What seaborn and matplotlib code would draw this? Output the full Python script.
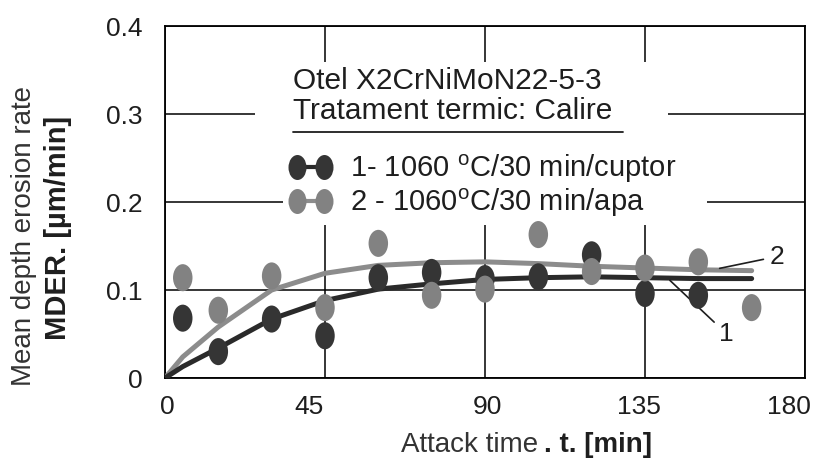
import matplotlib
matplotlib.use('Agg')
import matplotlib.pyplot as plt
import seaborn as sns
from matplotlib.path import Path
from matplotlib.transforms import Affine2D, ScaledTranslation
from matplotlib.markers import MarkerStyle
from matplotlib.lines import Line2D
from matplotlib.patches import Rectangle

# measured points
t_pts1 = [5, 15, 30, 45, 60, 75, 90, 105, 120, 135, 150]
mder1 = [0.068, 0.030, 0.067, 0.048, 0.114, 0.120, 0.113, 0.115, 0.140, 0.096, 0.094]
t_pts2 = [5, 15, 30, 45, 60, 75, 90, 105, 120, 135, 150, 165]
mder2 = [0.114, 0.077, 0.116, 0.080, 0.153, 0.094, 0.101, 0.163, 0.121, 0.125, 0.132, 0.080]

# fitted curves
t_fit = [0, 5, 15, 30, 45, 60, 75, 90, 105, 120, 135, 150, 165]
fit1 = [0, 0.013, 0.034, 0.067, 0.088, 0.101, 0.107, 0.112, 0.114, 0.115, 0.114, 0.113, 0.113]
fit2 = [0, 0.024, 0.058, 0.100, 0.119, 0.128, 0.131, 0.132, 0.130, 0.127, 0.125, 0.123, 0.122]

x_ticks = [0, 45, 90, 135, 180]
y_ticks = [0, 0.1, 0.2, 0.3, 0.4]
y_ticklabels = ['0', '0.1', '0.2', '0.3', '0.4']

labels = ['1- 1060 $^{\\mathrm{o}}$C/30 min/cuptor', '2 - 1060$^{\\mathrm{o}}$C/30 min/apa']
dark = '#353535'
grey = '#828282'
txt = '#1e1e1e'

sns.set_style('white')
plt.rcParams['font.family'] = ['Liberation Sans', 'DejaVu Sans']
plt.rcParams['mathtext.fontset'] = 'custom'
plt.rcParams['mathtext.rm'] = 'Liberation Sans'
plt.rcParams['mathtext.bf'] = 'Liberation Sans:bold'
plt.rcParams['mathtext.it'] = 'Liberation Sans:italic'

ell = MarkerStyle(Affine2D().scale(0.72, 1.0).transform_path(Path.unit_circle()))

fig = plt.figure(figsize=(8.22, 4.61), dpi=100)
ax = fig.add_axes([0.2007, 0.180, 0.7786, 0.7636])

sns.lineplot(x=t_fit, y=fit2, color='#8c8c8c', lw=3.6, ax=ax, zorder=3)
sns.lineplot(x=t_fit, y=fit1, color='#2a2a2a', lw=3.6, ax=ax, zorder=3)
sns.scatterplot(x=t_pts1, y=mder1, marker=ell, s=380, color=dark, edgecolor='none', ax=ax, zorder=4)
sns.scatterplot(x=t_pts2, y=mder2, marker=ell, s=380, color=grey, edgecolor='none', ax=ax, zorder=4)

ax.set_xlim(0, 180)
ax.set_ylim(0, 0.4)
ax.set_xticks(x_ticks)
ax.set_yticks(y_ticks)
ax.set_yticklabels(y_ticklabels)
ax.tick_params(axis='both', length=0, labelsize=19, colors=txt)
ax.tick_params(axis='x', pad=12)
ax.tick_params(axis='y', pad=16)
# the scanned x labels sit a little left of their grid lines
for lab, dx in zip(ax.get_xticklabels(), [2, -16, 2, -6, -16]):
    lab.set_transform(lab.get_transform() + ScaledTranslation(dx / 100, 0, fig.dpi_scale_trans))
ax.grid(True, color='black', lw=1.1)
ax.set_axisbelow(True)
for sp in ax.spines.values():
    sp.set_color('black')
    sp.set_linewidth(1.3)
ax.set_xlabel('')
ax.set_ylabel('')

# white background behind heading and legend
ax.add_patch(Rectangle((0.1406, 0.648), 0.6454, 0.25, transform=ax.transAxes,
                       fc='white', ec='none', zorder=2))
ax.add_patch(Rectangle((0.184, 0.435), 0.663, 0.213, transform=ax.transAxes,
                       fc='white', ec='none', zorder=2))

ax.text(36, 0.338, 'Otel X2CrNiMoN22-5-3', fontsize=21.5, ha='left', va='center',
        color=txt, zorder=3)
ax.text(36, 0.303, 'Tratament termic: Calire', fontsize=21.5, ha='left', va='center',
        color=txt, zorder=3)
ax.add_line(Line2D([0.2, 0.716], [0.699, 0.699], transform=ax.transAxes, color=txt, lw=1.3, zorder=3))

handles = [Line2D([], [], color='#2a2a2a', lw=3, marker=ell, markersize=18, markerfacecolor=dark, markeredgecolor='none'),
           Line2D([], [], color='#8c8c8c', lw=3, marker=ell, markersize=18, markerfacecolor=grey, markeredgecolor='none')]
ax.legend(handles, labels, loc='center left', bbox_to_anchor=(0.184, 0.545), numpoints=2,
          fontsize=21, frameon=False, borderaxespad=0, borderpad=0.2, handlelength=1.5,
          handletextpad=0.6, labelspacing=0.05, labelcolor=txt)

ax.annotate('2', xy=(156, 0.1246), xytext=(170, 0.138), fontsize=19, va='center', ha='left', color=txt,
            arrowprops=dict(arrowstyle='-', color=txt, lw=1.2, shrinkA=2, shrinkB=0))
ax.annotate('1', xy=(142, 0.111), xytext=(158, 0.050), fontsize=19, va='center', ha='center', color=txt,
            arrowprops=dict(arrowstyle='-', color=txt, lw=1.2, shrinkA=2, shrinkB=0))

# axis titles
fig.text(24 / 822, 1 - 236 / 461, 'Mean depth erosion rate', rotation=90, fontsize=20,
         ha='center', va='center', color='#333333')
fig.text(58 / 822, 1 - 228 / 461, 'MDER. [µm/min]', rotation=90, fontsize=21, weight='bold',
         ha='center', va='center', color=txt)
fig.text(538 / 822, 1 - 445 / 461, 'Attack time', fontsize=20, ha='right', va='center', color='#333333')
fig.text(544 / 822, 1 - 445 / 461, '. t. [min]', fontsize=20, weight='bold', ha='left', va='center',
         color=txt)

fig.savefig('out.png', dpi=100)
